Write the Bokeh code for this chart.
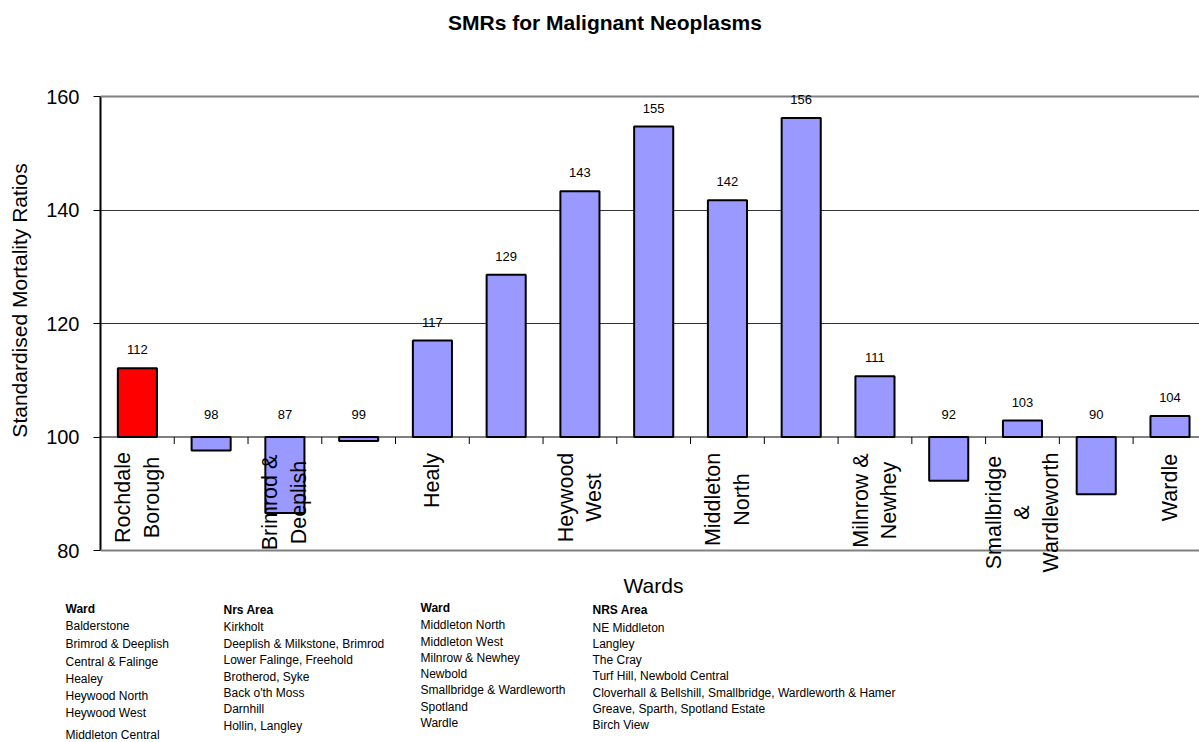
import math
from bokeh.plotting import figure
from bokeh.layouts import column
from bokeh.models import ColumnDataSource, Label, LabelSet, Span, FixedTicker, Range1d
from bokeh.core.properties import value
from bokeh.embed import file_html
from bokeh.resources import INLINE

# ---------------- data ----------------
categories = ["Rochdale Borough", "Balderstone", "Brimrod & Deeplish", "Central & Falinge",
              "Healey", "Heywood North", "Heywood West", "Middleton Central",
              "Middleton North", "Middleton West", "Milnrow & Newhey", "Newbold",
              "Smallbridge & Wardleworth", "Spotland", "Wardle"]
smr = [112.1, 97.6, 86.6, 99.3, 117.0, 128.6, 143.3, 154.7, 141.7, 156.2,
       110.7, 92.3, 102.9, 89.9, 103.7]
axis_text = ["Rochdale\nBorough", "", "Brimrod &\nDeeplish", "", "Healy", "",
             "Heywood\nWest", "", "Middleton\nNorth", "", "Milnrow &\nNewhey", "",
             "Smallbridge\n&\nWardleworth", "", "Wardle"]
y_ticks = [80, 100, 120, 140, 160]
baseline = 100

table_ward_1 = ["Balderstone", "Brimrod & Deeplish", "Central & Falinge", "Healey",
                "Heywood North", "Heywood West", "Middleton Central"]
table_area_1 = ["Kirkholt", "Deeplish & Milkstone, Brimrod", "Lower Falinge, Freehold",
                "Brotherod, Syke", "Back o'th Moss", "Darnhill", "Hollin, Langley"]
table_ward_2 = ["Middleton North", "Middleton West", "Milnrow & Newhey", "Newbold",
                "Smallbridge & Wardleworth", "Spotland", "Wardle"]
table_area_2 = ["NE Middleton", "Langley", "The Cray", "Turf Hill, Newbold Central",
                "Cloverhall & Bellshill, Smallbridge, Wardleworth & Hamer",
                "Greave, Sparth, Spotland Estate", "Birch View"]

# ---------------- layout helpers ----------------
FONT = "Liberation Sans"
N = len(categories)
W = 1199
MAIN_H = 600
TABLE_H = 142
X_END = 14.9
FRAME_L, FRAME_R = 100, W
Y160_PX, Y80_PX = 96, 550
CAT_W = (FRAME_R - FRAME_L) / X_END
PX_PER_UNIT = (Y80_PX - Y160_PX) / (y_ticks[-1] - y_ticks[0])


def dx(px):
    return (px - FRAME_L) / CAT_W


def dy(py):
    return y_ticks[0] + (Y80_PX - py) / PX_PER_UNIT


p = figure(width=W, height=MAIN_H, x_range=(0, X_END), y_range=(dy(MAIN_H), dy(0)),
           output_backend="svg", toolbar_location=None,
           min_border_left=FRAME_L, min_border_right=0, min_border_top=0, min_border_bottom=0)
p.frame_align = False
p.outline_line_color = None
p.background_fill_color = "white"
p.border_fill_color = "white"

# axes
p.xaxis.visible = False
yax = p.yaxis[0]
yax.ticker = FixedTicker(ticks=y_ticks)
yax.bounds = (y_ticks[0], y_ticks[-1])
yax.minor_tick_line_color = None
yax.major_tick_in = 0
yax.major_tick_out = 7
yax.major_tick_line_color = "black"
yax.axis_line_color = "black"
yax.axis_line_width = 2
yax.major_label_text_font = FONT
yax.major_label_text_font_size = "20px"
yax.major_label_text_color = "black"
yax.major_label_standoff = 14
yax.axis_label = "Standardised Mortality Ratios"
yax.axis_label_text_font = FONT
yax.axis_label_text_font_size = "21px"
yax.axis_label_text_font_style = "normal"
yax.axis_label_text_color = "black"
yax.axis_label_standoff = 12

p.xgrid.visible = False
p.ygrid.ticker = FixedTicker(ticks=[120, 140])
p.ygrid.grid_line_color = "#333333"
p.ygrid.grid_line_width = 1

p.add_layout(Span(location=160, dimension="width", line_color="#808080", line_width=2))
p.add_layout(Span(location=80, dimension="width", line_color="#808080", line_width=2))

# bars
xs = [i + 0.5 for i in range(N)]
colors = ["#FF0000"] + ["#9999FF"] * (N - 1)
src = ColumnDataSource(dict(x=xs, top=smr, color=colors, cat=categories))
p.vbar(x="x", width=0.53, bottom=baseline, top="top", source=src,
       fill_color="color", line_color="black", line_width=2)

p.add_layout(Span(location=baseline, dimension="width", line_color="black", line_width=1))
tick_len = 7 / PX_PER_UNIT
p.segment(x0=list(range(1, N)), x1=list(range(1, N)), y0=baseline,
          y1=baseline - tick_len, line_color="black", line_width=1)

# value labels
lab_y = [(v + 18.5 / PX_PER_UNIT) if v >= baseline else (baseline + 23 / PX_PER_UNIT) for v in smr]
lab_txt = [str(int(round(v))) for v in smr]
lsrc = ColumnDataSource(dict(x=xs, y=lab_y, t=lab_txt))
p.add_layout(LabelSet(x="x", y="y", text="t", source=lsrc, text_align="center",
                      text_baseline="middle", text_font=value(FONT),
                      text_font_size="13px", text_color="black"))

# category labels (rotated)
label_center_py = [497, 0, 502, 0, 480, 0, 497, 0, 499, 0, 500, 0, 512, 0, 487]
for i, txt in enumerate(axis_text):
    if not txt:
        continue
    p.add_layout(Label(x=xs[i], y=dy(label_center_py[i]), text=txt, angle=math.pi / 2,
                       text_align="center", text_baseline="middle", text_font=FONT,
                       text_font_size="21.5px", text_color="black", text_line_height=1.2))

# title and x label
p.add_layout(Label(x=dx(604.5), y=dy(22), text="SMRs for Malignant Neoplasms",
                   text_align="center", text_baseline="middle", text_font=FONT,
                   text_font_size="21px", text_font_style="bold", text_color="black"))
p.add_layout(Label(x=dx(653), y=dy(585), text="Wards", text_align="center",
                   text_baseline="middle", text_font=FONT, text_font_size="21px",
                   text_color="black"))

# ---------------- table below (pixel coordinates) ----------------
t = figure(width=W, height=TABLE_H, x_range=Range1d(0, W), y_range=Range1d(MAIN_H + TABLE_H, MAIN_H),
           output_backend="svg", toolbar_location=None,
           min_border_left=0, min_border_right=0, min_border_top=0, min_border_bottom=0)
t.frame_align = False
t.axis.visible = False
t.grid.visible = False
t.outline_line_color = None
t.background_fill_color = "white"
t.border_fill_color = "white"


def tlabel(px, py, text, bold=False):
    t.add_layout(Label(x=px, y=py, text=text, text_align="left",
                       text_baseline="middle", text_font=FONT, text_font_size="12px",
                       text_font_style="bold" if bold else "normal", text_color="black"))


tlabel(65, 608, "Ward", True)
for s, py in zip(table_ward_1, [625, 643, 661, 678, 695, 712, 734]):
    tlabel(65, py, s)
tlabel(223, 609, "Nrs Area", True)
for s, py in zip(table_area_1, [626, 643, 659, 676, 692, 708, 725]):
    tlabel(223, py, s)
tlabel(420, 607, "Ward", True)
for s, py in zip(table_ward_2, [624, 641, 657, 673, 689, 706, 722]):
    tlabel(420, py, s)
tlabel(592, 609, "NRS Area", True)
for s, py in zip(table_area_2, [627, 643, 659, 675, 692, 708, 724]):
    tlabel(592, py, s)

layout = column(p, t, spacing=0)
open("out.html", "w").write(file_html(layout, INLINE))
